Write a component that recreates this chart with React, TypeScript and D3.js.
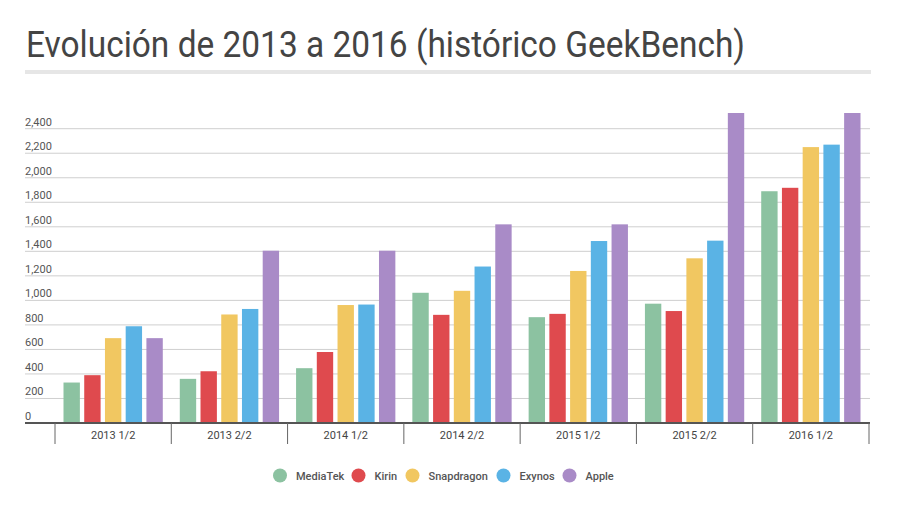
import React from "react";
import * as d3 from "d3";

const categories = ["2013 1/2", "2013 2/2", "2014 1/2", "2014 2/2", "2015 1/2", "2015 2/2", "2016 1/2"];
const seriesNames = ["MediaTek", "Kirin", "Snapdragon", "Exynos", "Apple"];
const mediatek = [330, 360, 447, 1062, 863, 973, 1890];
const kirin = [390, 422, 579, 882, 890, 913, 1918];
const snapdragon = [692, 885, 962, 1078, 1240, 1343, 2250];
const exynos = [789, 930, 966, 1276, 1484, 1487, 2270];
const apple = [692, 1405, 1405, 1620, 1620, 2528, 2528];
const seriesValues = [mediatek, kirin, snapdragon, exynos, apple];
const colors = ["#8cc2a1", "#df4a4e", "#f1c761", "#5ab3e5", "#a98bc7"];
const yTicks = [0, 200, 400, 600, 800, 1000, 1200, 1400, 1600, 1800, 2000, 2200, 2400];
const title = "Evolución de 2013 a 2016 (histórico GeekBench)";

const W = 899;
const H = 513;

export default function App() {
  const y = d3.scaleLinear().domain([0, 2400]).range([423, 128.7]);
  const x0 = d3.scaleBand<string>().domain(categories).range([55, 869]).paddingInner(0).paddingOuter(0);
  const x1 = d3
    .scaleBand<string>()
    .domain(seriesNames)
    .range([0, x0.bandwidth()])
    .paddingInner(0.21)
    .paddingOuter(0.41);
  const fmt = d3.format(",");
  const font = "Roboto, 'Open Sans', sans-serif";

  const legendX = [280, 358.5, 412.5, 503.5, 569.5];

  return (
    <svg
      width={W}
      height={H}
      style={{ position: "absolute", left: 0, top: 0, background: "#fff" }}
      fontFamily={font}
    >
      <rect x={0} y={0} width={W} height={H} fill="#fff" />
      <text
        x={26}
        y={56.5}
        fontSize={36}
        fill="#444"
        textLength={719}
        lengthAdjust="spacingAndGlyphs"
      >
        {title}
      </text>
      <rect x={25} y={70} width={846} height={4} fill="#e6e6e6" />

      {yTicks.map((t) => (
        <g key={t}>
          {t !== 0 && (
            <line x1={25} x2={870} y1={y(t)} y2={y(t)} stroke="#cfcfcf" strokeWidth={1} />
          )}
          <text x={25} y={y(t) - 3} fontSize={11} fill="#555">
            {fmt(t)}
          </text>
        </g>
      ))}

      {categories.map((c, ci) => (
        <g key={c} transform={`translate(${x0(c)},0)`}>
          {seriesNames.map((s, si) => {
            const v = seriesValues[si][ci];
            return (
              <rect
                key={s}
                x={x1(s)}
                y={y(v)}
                width={x1.bandwidth()}
                height={y(0) - y(v)}
                fill={colors[si]}
              />
            );
          })}
        </g>
      ))}

      <line x1={25} x2={870} y1={y(0)} y2={y(0)} stroke="#555" strokeWidth={2} />
      {[...categories.map((c) => x0(c) as number), 869].map((xv, i) => (
        <line key={i} x1={xv} x2={xv} y1={y(0)} y2={444} stroke="#666" strokeWidth={1} />
      ))}
      {categories.map((c) => (
        <text
          key={c}
          x={(x0(c) as number) + x0.bandwidth() / 2}
          y={438.5}
          fontSize={11}
          fill="#444"
          textAnchor="middle"
        >
          {c}
        </text>
      ))}

      {seriesNames.map((s, i) => (
        <g key={s}>
          <circle cx={legendX[i]} cy={475.5} r={7} fill={colors[i]} />
          <text x={legendX[i] + 16} y={479.5} fontSize={11} fill="#555" fontWeight={500}>
            {s}
          </text>
        </g>
      ))}
    </svg>
  );
}
